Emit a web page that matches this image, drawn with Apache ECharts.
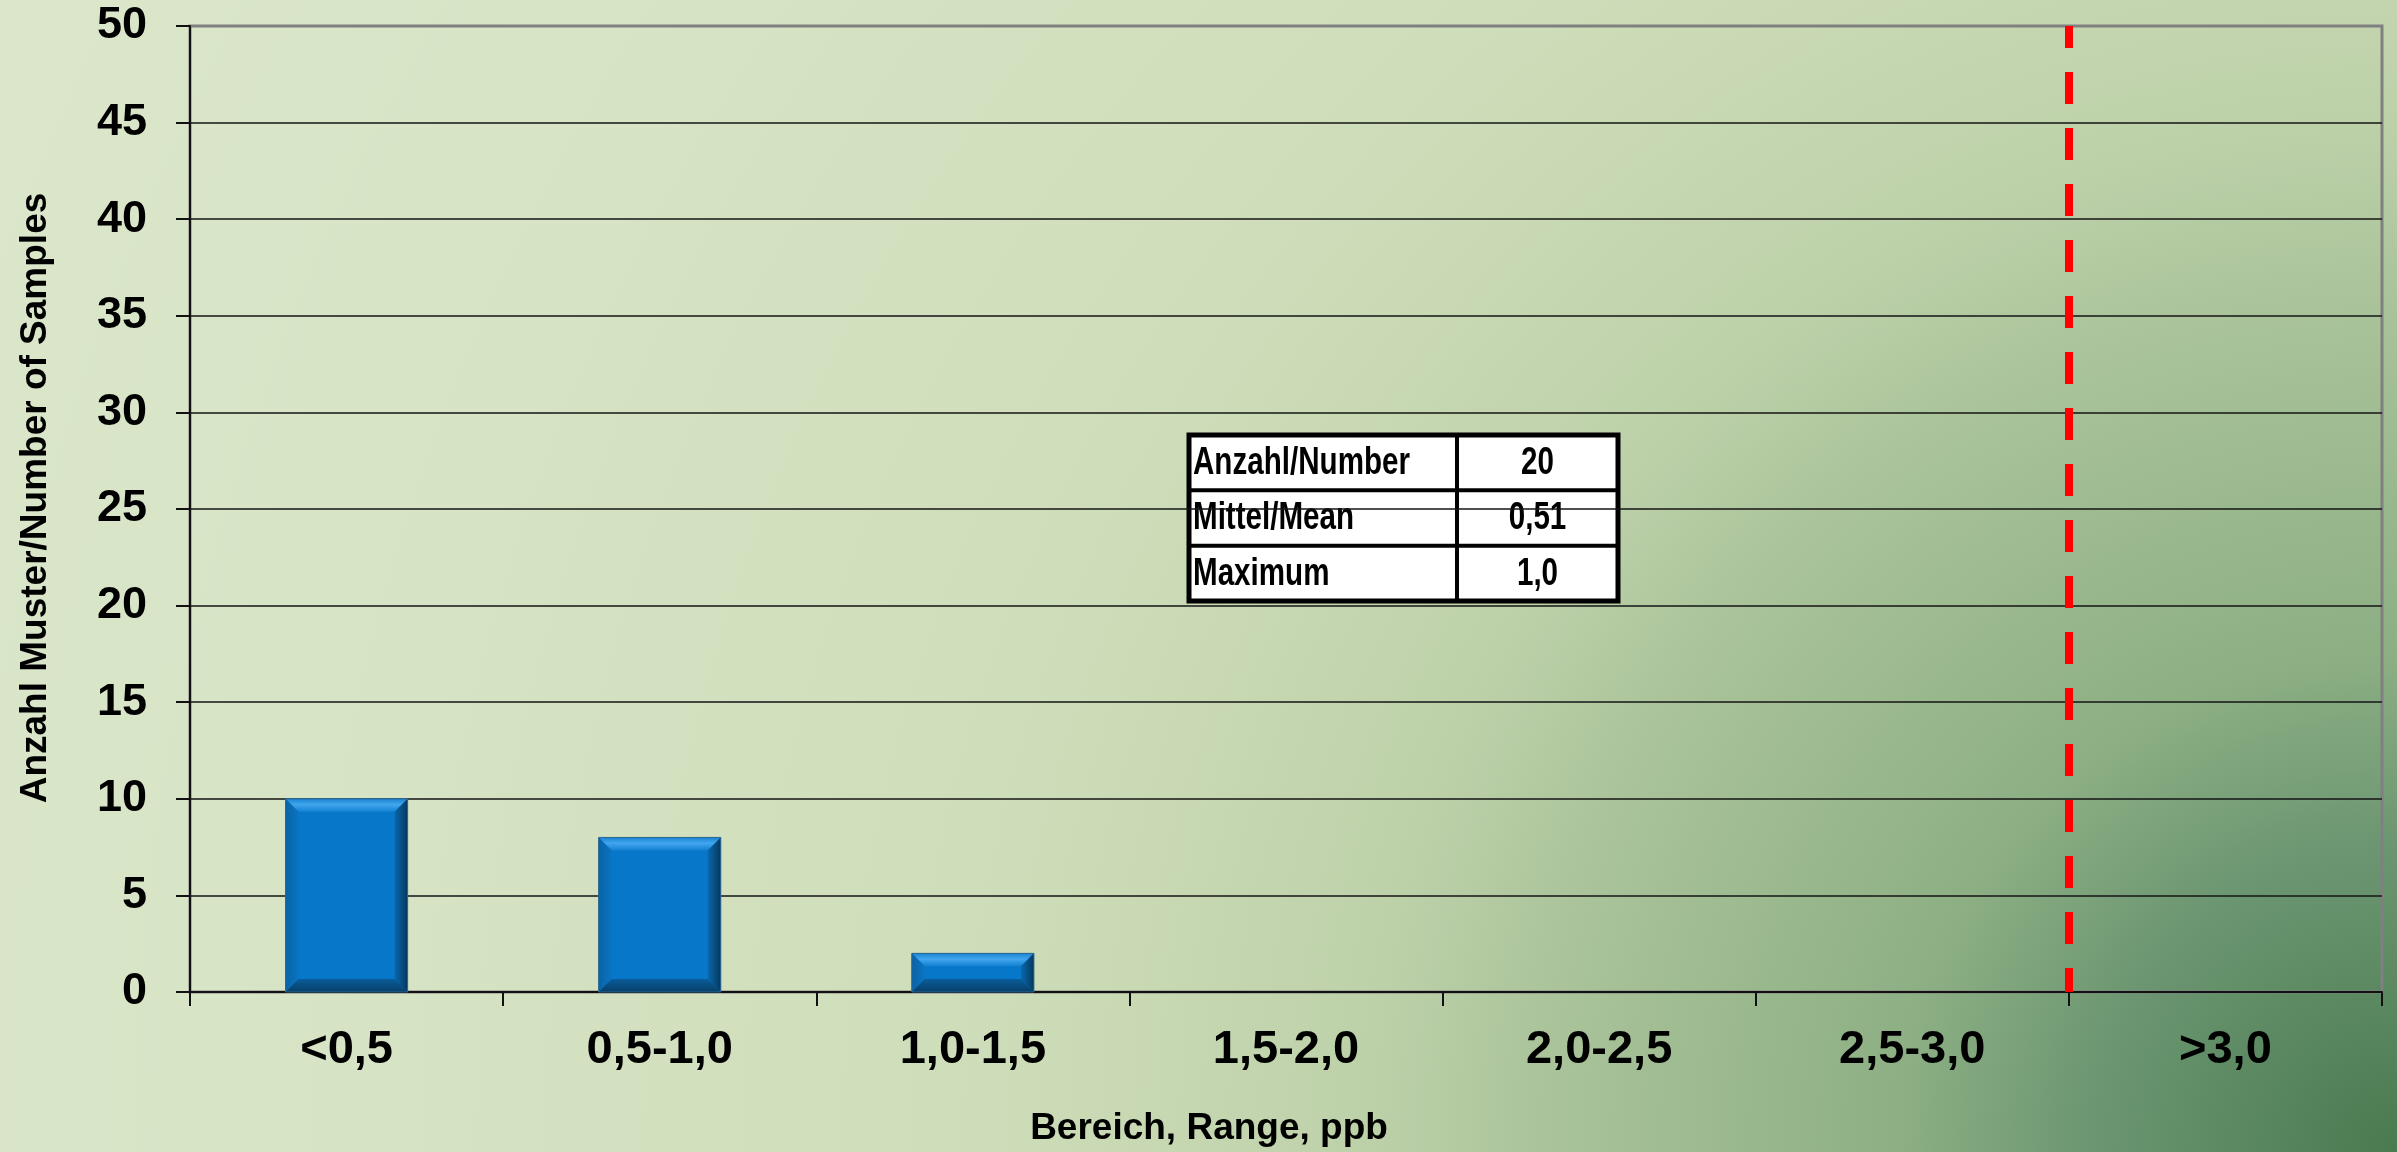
<!DOCTYPE html>
<html>
<head>
<meta charset="utf-8">
<script src="https://cdn.jsdelivr.net/npm/echarts@6/dist/echarts.min.js"></script>
<style>
  html, body { margin: 0; padding: 0; }
  #chart { width: 2397px; height: 1152px; }
</style>
</head>
<body>
<div id="chart"></div>
<script>
// ---- data ----
const categories = ['<0,5', '0,5-1,0', '1,0-1,5', '1,5-2,0', '2,0-2,5', '2,5-3,0', '>3,0'];
const sampleCounts = [10, 8, 2, 0, 0, 0, 0];
const yMin = 0, yMax = 50, yStep = 5;
const limitBoundary = 6; // boundary between '2,5-3,0' and '>3,0'
const tableLabels = ['Anzahl/Number', 'Mittel/Mean', 'Maximum'];
const tableValues = ['20', '0,51', '1,0'];
const yAxisName = 'Anzahl Muster/Number of Samples';
const xAxisName = 'Bereich, Range, ppb';

const FONT = "'Liberation Sans', Arial, sans-serif";
const TABLE_FONT = "bold 38px 'Liberation Sans', Arial, sans-serif";

const chart = echarts.init(document.getElementById('chart'), null, { renderer: 'canvas' });

function renderBevelBar(params, api) {
  const v = api.value(1);
  if (!v) return null;
  const idx = api.value(0);
  const top = api.coord([idx, v]);
  const base = api.coord([idx, 0]);
  const w = api.size([1, 0])[0] * 0.39;
  const l = top[0] - w / 2, r = top[0] + w / 2, t = top[1], b = base[1];
  const e = Math.min(13, (b - t) / 3);
  const G = echarts.graphic.LinearGradient;
  return {
    type: 'group',
    children: [
      { type: 'rect', shape: { x: l, y: t, width: w, height: b - t }, style: { fill: '#0777C9' } },
      { type: 'polygon', shape: { points: [[l, t], [r, t], [r - e, t + e], [l + e, t + e]] },
        style: { fill: new G(0, 0, 0, 1, [{ offset: 0, color: '#1A84D2' }, { offset: 0.45, color: '#41A6EE' }, { offset: 1, color: '#1381D1' }]) } },
      { type: 'polygon', shape: { points: [[l, t], [l + e, t + e], [l + e, b - e], [l, b]] },
        style: { fill: new G(0, 0, 1, 0, [{ offset: 0, color: '#0963A6' }, { offset: 1, color: '#0A74C2' }]) } },
      { type: 'polygon', shape: { points: [[r, t], [r - e, t + e], [r - e, b - e], [r, b]] },
        style: { fill: new G(0, 0, 1, 0, [{ offset: 0, color: '#0868AE' }, { offset: 1, color: '#06385C' }]) } },
      { type: 'polygon', shape: { points: [[l, b], [r, b], [r - e, b - e], [l + e, b - e]] },
        style: { fill: new G(0, 0, 0, 1, [{ offset: 0, color: '#0A5C99' }, { offset: 1, color: '#073F69' }]) } },
      { type: 'rect', shape: { x: l, y: t, width: w, height: b - t }, style: { fill: 'none', stroke: '#2F678F', lineWidth: 1 } }
    ]
  };
}

// table graphic
const tblX = 1189, tblY = 435, tblW = 429, tblH = 166, colSplit = 268;
const rowH = tblH / tableLabels.length;
// condense the table font horizontally so the widest label fits like the reference
const measureCtx = document.createElement('canvas').getContext('2d');
measureCtx.font = TABLE_FONT;
const widest = Math.max.apply(null, tableLabels.map(s => measureCtx.measureText(s).width));
const tblScaleX = Math.min(1, 217 / widest);

const tableChildren = [
  { type: 'rect', shape: { x: 0, y: 0, width: tblW, height: tblH }, style: { fill: '#FFFFFF', stroke: '#000', lineWidth: 5 } },
  { type: 'line', shape: { x1: colSplit, y1: 0, x2: colSplit, y2: tblH }, style: { stroke: '#000', lineWidth: 4 } }
];
tableLabels.forEach((lab, i) => {
  if (i > 0) tableChildren.push({ type: 'line', shape: { x1: 0, y1: rowH * i, x2: tblW, y2: rowH * i }, style: { stroke: '#000', lineWidth: 4 } });
  tableChildren.push({ type: 'text', x: 4, y: rowH * (i + 0.5) + 1, scaleX: tblScaleX,
    style: { text: lab, font: TABLE_FONT, fill: '#000', textAlign: 'left', textVerticalAlign: 'middle' } });
  tableChildren.push({ type: 'text', x: colSplit + (tblW - colSplit) / 2, y: rowH * (i + 0.5) + 1, scaleX: tblScaleX,
    style: { text: tableValues[i], font: TABLE_FONT, fill: '#000', textAlign: 'center', textVerticalAlign: 'middle' } });
});

const splitColors = [];
for (let v = yMin; v <= yMax; v += yStep) splitColors.push(v === yMax ? '#808080' : '#151515');

const option = {
  animation: false,
  backgroundColor: {
    type: 'radial', x: 1, y: 1, r: 2.35,
    colorStops: [
      { offset: 0, color: '#4A7A50' },
      { offset: 0.11, color: '#6A9570' },
      { offset: 0.185, color: '#8DAF84' },
      { offset: 0.315, color: '#AAC39A' },
      { offset: 0.38, color: '#BDD1A9' },
      { offset: 0.52, color: '#CEDDB9' },
      { offset: 0.74, color: '#D6E3C4' },
      { offset: 1, color: '#DCE7CB' }
    ]
  },
  grid: { left: 190, top: 26, right: 15, bottom: 157, show: true, borderColor: '#808080', borderWidth: 3, backgroundColor: 'transparent' },
  xAxis: [
    {
      type: 'category', data: categories, boundaryGap: true,
      axisLine: { lineStyle: { color: '#111', width: 2 } },
      axisTick: { show: true, length: 14, interval: 0, lineStyle: { color: '#111', width: 2 } },
      axisLabel: { interval: 0, margin: 35, fontSize: 47, fontWeight: 'bold', color: '#000', fontFamily: FONT },
      splitLine: { show: false },
      name: xAxisName, nameLocation: 'middle', nameGap: 118,
      nameTextStyle: { fontSize: 37, fontWeight: 'bold', color: '#000', fontFamily: FONT, padding: [0, 154, 0, 0] }
    },
    { type: 'value', min: 0, max: categories.length, show: false }
  ],
  yAxis: {
    type: 'value', min: yMin, max: yMax, interval: yStep,
    axisLine: { show: true, lineStyle: { color: '#111', width: 2 } },
    axisTick: { show: true, length: 14, lineStyle: { color: '#111', width: 2 } },
    axisLabel: { margin: 43, fontSize: 45, fontWeight: 'bold', color: '#000', fontFamily: FONT },
    splitLine: { show: true, lineStyle: { color: splitColors, width: 1.5 } },
    name: yAxisName, nameLocation: 'middle', nameGap: 136,
    nameTextStyle: { fontSize: 37, fontWeight: 'bold', color: '#000', fontFamily: FONT, padding: [0, 0, 0, 22] }
  },
  series: [
    {
      type: 'custom', name: 'Samples', xAxisIndex: 0, yAxisIndex: 0,
      renderItem: renderBevelBar,
      encode: { x: 0, y: 1 },
      data: categories.map((c, i) => [i, sampleCounts[i]]),
      z: 3
    },
    {
      type: 'line', xAxisIndex: 1, yAxisIndex: 0, data: [], z: 5,
      markLine: {
        silent: true, symbol: ['none', 'none'], label: { show: false },
        lineStyle: { color: '#FF0000', width: 8, type: [32, 24], dashOffset: 8 },
        data: [{ xAxis: limitBoundary }]
      }
    }
  ],
  graphic: [
    { type: 'group', x: tblX, y: tblY, z: 100, silent: true, children: tableChildren }
  ]
};
chart.setOption(option);
</script>
</body>
</html>
